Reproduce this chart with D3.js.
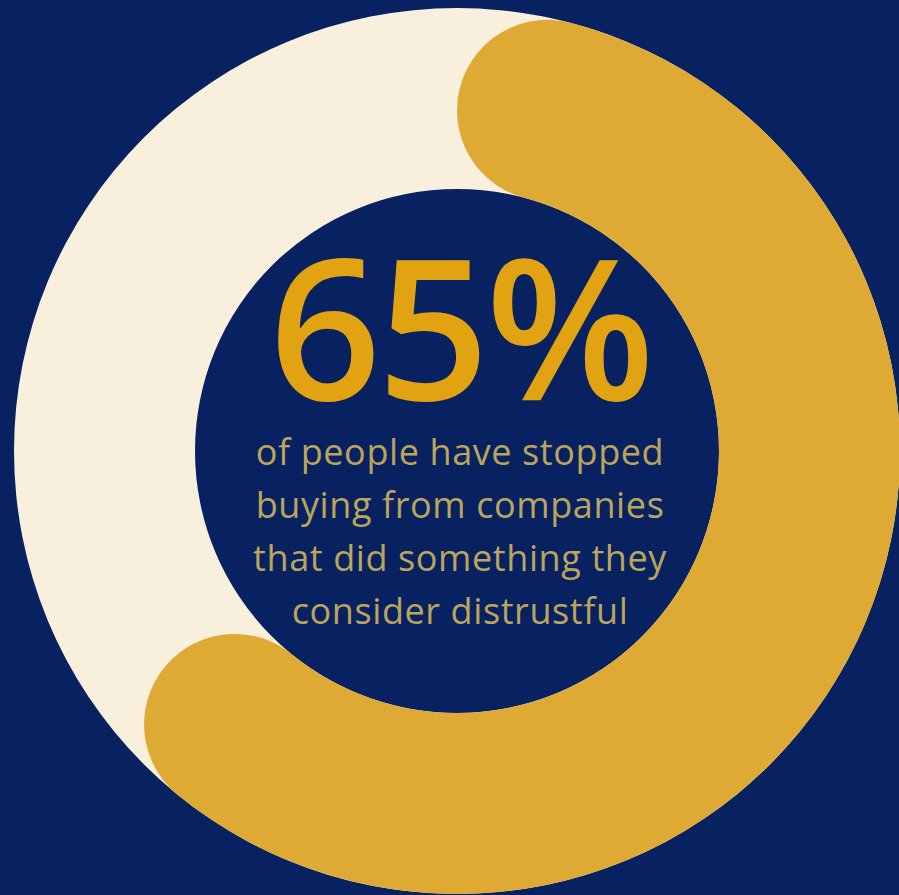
<!DOCTYPE html>
<html>
<head>
<meta charset="utf-8">
<script src="https://cdn.jsdelivr.net/npm/d3@7"></script>
<style>
  html, body { margin: 0; padding: 0; background: #082160; }
  svg { display: block; }
</style>
</head>
<body>
<div id="chart"></div>
<script>
// values
const share = [65];
const total = 100;
const bigLabel = ["65%"];
const caption = [
  "of people have stopped",
  "buying from companies",
  "that did something they",
  "consider distrustful"
];

const width = 899;
const height = 895;
const cx = 457, cy = 451;
const outer = 443, inner = 262;

const svg = d3.select("#chart").append("svg")
  .attr("width", width)
  .attr("height", height);

svg.append("rect")
  .attr("width", width)
  .attr("height", height)
  .attr("fill", "#082160");

let g = svg.append("g").attr("transform", `translate(${cx},${cy})`);

const angle = d3.scaleLinear()
  .domain([0, total])
  .range([0, 2 * Math.PI]);

// cream track
const track = d3.arc()
  .innerRadius(inner)
  .outerRadius(outer)
  .startAngle(0)
  .endAngle(2 * Math.PI);

g.append("path")
  .attr("d", track())
  .attr("fill", "#f8f0dc");

// gold value arc with round ends
const arc = d3.arc()
  .innerRadius(inner)
  .outerRadius(outer)
  .cornerRadius((outer - inner) / 2);

g.selectAll("path.value")
  .data(share)
  .enter().append("path")
  .attr("class", "value")
  .attr("d", d => arc({ startAngle: angle(0), endAngle: angle(d) }))
  .attr("fill", "#deaa33");

g.append("text")
  .text(bigLabel[0])
  .attr("x", 3)
  .attr("y", -51)
  .attr("text-anchor", "middle")
  .style("font-family", "'Open Sans', sans-serif")
  .style("font-size", "196px")
  .style("font-weight", 600)
  .style("letter-spacing", "-4px")
  .attr("fill", "#e2a312");

g.selectAll("text.caption")
  .data(caption)
  .enter().append("text")
  .attr("class", "caption")
  .text(d => d)
  .attr("x", 3)
  .attr("y", (d, i) => 14 + i * 53)
  .attr("text-anchor", "middle")
  .style("font-family", "'Open Sans', sans-serif")
  .style("font-size", "36px")
  .style("letter-spacing", "0.6px")
  .attr("fill", "#bba55c");
</script>
</body>
</html>
